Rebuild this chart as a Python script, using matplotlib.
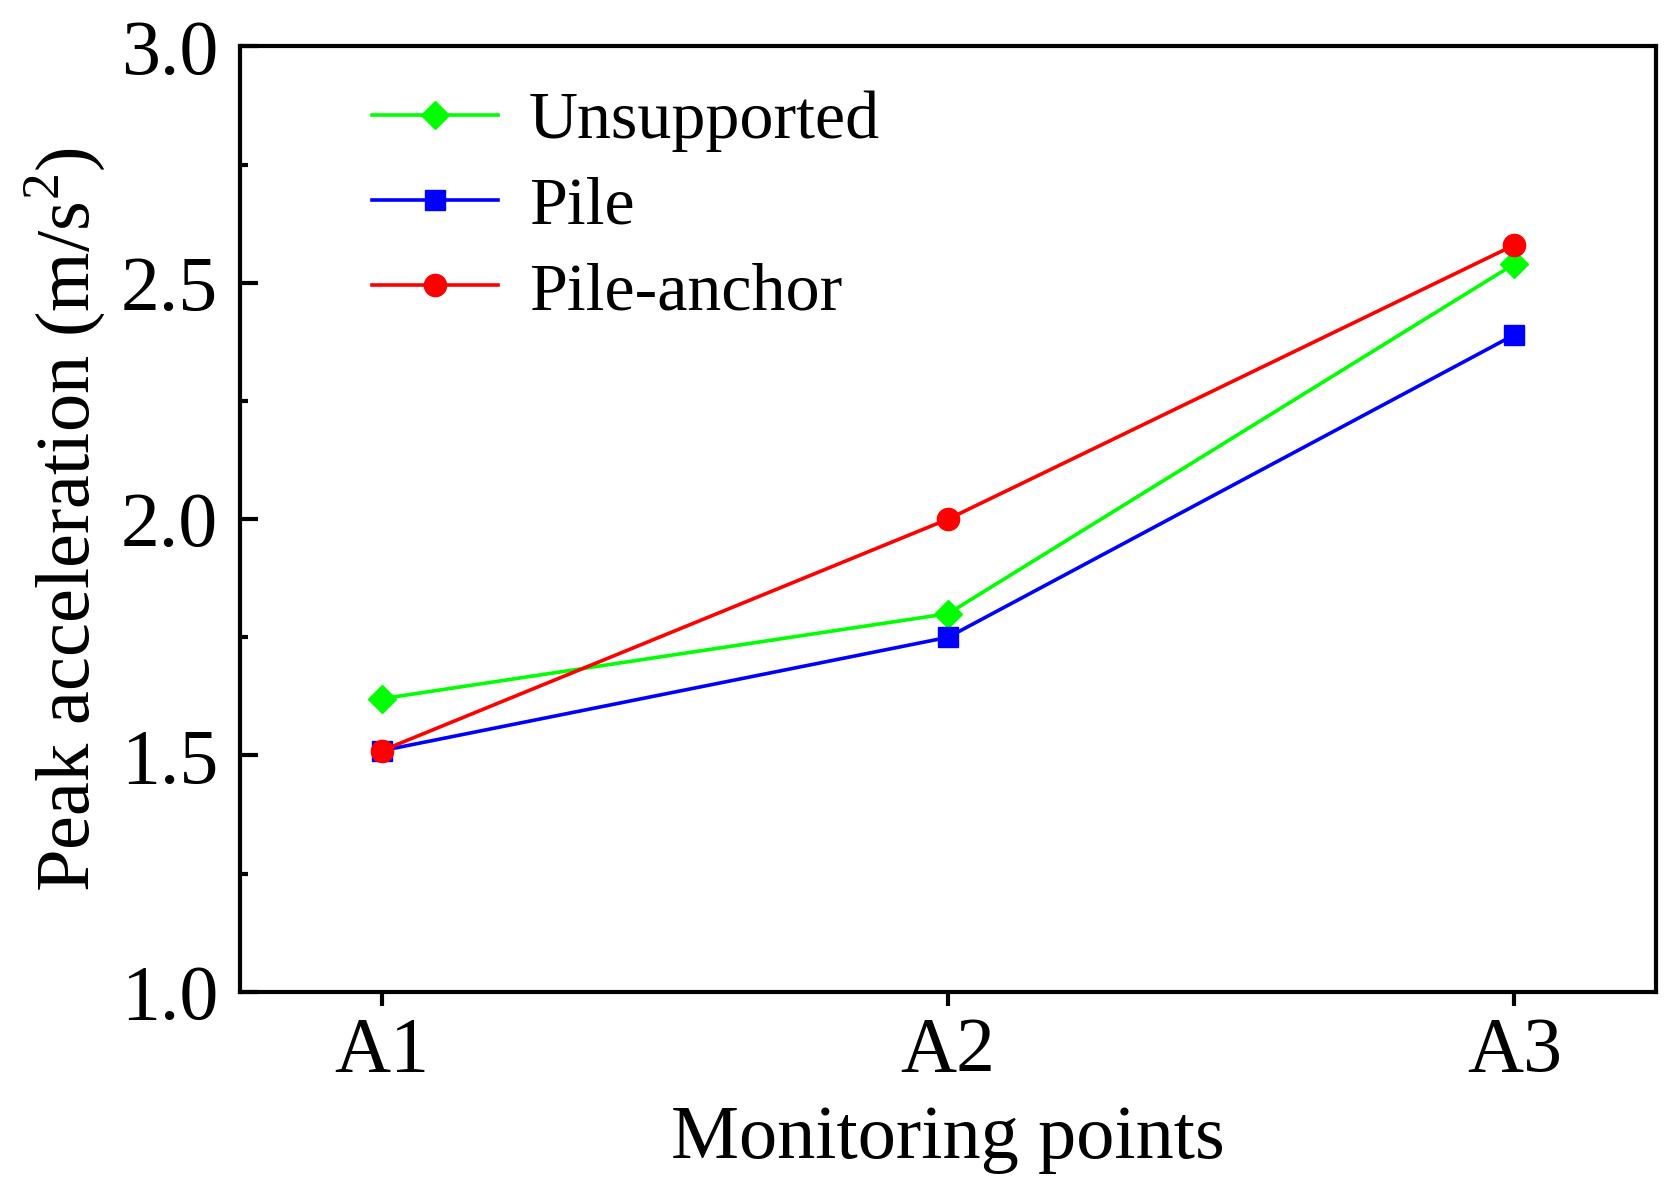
import numpy as np
import matplotlib
matplotlib.use("Agg")
from matplotlib import pyplot as plt
from matplotlib.ticker import MultipleLocator

# dados
pontos = ["A1", "A2", "A3"]
unsupported = [1.62, 1.80, 2.54]
pile = [1.51, 1.75, 2.39]
pile_anchor = [1.51, 2.00, 2.58]

plt.rcParams['font.family'] = ['Liberation Serif', 'DejaVu Serif']
plt.rcParams['mathtext.fontset'] = 'custom'
plt.rcParams['mathtext.rm'] = 'Liberation Serif'

fig = plt.figure(figsize=(16.8, 11.92), dpi=100)
ax = fig.add_axes([0.143, 0.168, 0.8427, 0.793])

x = np.arange(1, len(pontos) + 1)
ax.plot(x, unsupported, color='#00ff00', marker='D', markersize=14, lw=2.6, label='Unsupported')
ax.plot(x, pile, color='#0000ff', marker='s', markersize=15, lw=2.6, label='Pile')
ax.plot(x, pile_anchor, color='#ff0000', marker='o', markersize=16, lw=2.6, label='Pile-anchor')

ax.set_xlim(0.75, 3.25)
ax.set_ylim(1.0, 3.0)
ax.set_xticks(x)
ax.set_xticklabels(pontos)
ax.yaxis.set_major_locator(MultipleLocator(0.5))
ax.yaxis.set_minor_locator(MultipleLocator(0.25))
ax.yaxis.set_major_formatter(matplotlib.ticker.FormatStrFormatter('%.1f'))

for s in ax.spines.values():
  s.set_linewidth(3)

ax.tick_params(axis='y', which='major', direction='in', length=13, width=3, labelsize=56, pad=16)
ax.tick_params(axis='y', which='minor', direction='in', length=6, width=3)
ax.tick_params(axis='x', which='major', direction='out', length=10, width=3, labelsize=56, pad=8)

ax.set_xlabel('Monitoring points', fontsize=55, labelpad=12)
ax.set_ylabel('Peak acceleration (m/s$^2$)', fontsize=55, labelpad=10)

leg = ax.legend(loc='upper left', frameon=False, fontsize=49, handlelength=1.85,
                handletextpad=0.45, labelspacing=0.35, borderaxespad=0.5,
                bbox_to_anchor=(0.05, 1.018))

fig.savefig('out.png', dpi=100)
